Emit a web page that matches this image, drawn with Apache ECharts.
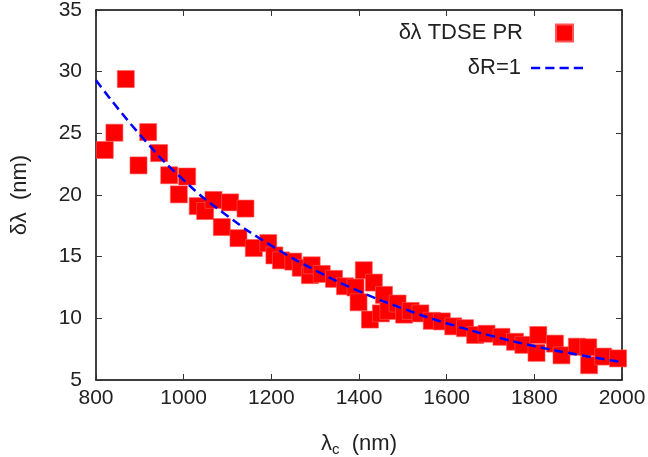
<!DOCTYPE html>
<html>
<head>
<meta charset="utf-8">
<script src="https://cdn.jsdelivr.net/npm/echarts@6/dist/echarts.min.js"></script>
<style>
html,body{margin:0;padding:0;background:#fff;}
#chart{width:648px;height:457px;}
</style>
</head>
<body>
<div id="chart"></div>
<script>
// Scatter data: δλ TDSE PR
var tdseX = [820, 842, 868, 897, 919, 944, 967, 989, 1008, 1032, 1049, 1068, 1087, 1106, 1125, 1141, 1160, 1193, 1207, 1222, 1250, 1267, 1288, 1292, 1315, 1343, 1368, 1392, 1399, 1411, 1425, 1434, 1450, 1457, 1467, 1488, 1503, 1518, 1540, 1566, 1589, 1615, 1642, 1665, 1691, 1725, 1756, 1775, 1805, 1809, 1847, 1862, 1897, 1923, 1925, 1957, 1991];
var tdseY = [23.65, 25.05, 29.4, 22.4, 25.1, 23.4, 21.6, 20.05, 21.5, 19.1, 18.7, 19.6, 17.4, 19.4, 16.5, 18.9, 15.7, 16.1, 15.1, 14.7, 14.6, 14.1, 13.5, 14.3, 13.6, 13.2, 12.6, 12.5, 11.3, 13.9, 9.9, 12.9, 10.4, 11.9, 10.6, 11.2, 10.3, 10.6, 10.4, 9.8, 9.75, 9.35, 9.2, 8.65, 8.75, 8.5, 8.1, 7.85, 7.2, 8.65, 7.95, 7.0, 7.7, 7.65, 6.2, 6.9, 6.75];
// Curve: δR=1
var curveX = [800, 900, 1000, 1100, 1200, 1300, 1400, 1500, 1600, 1700, 1800, 1900, 2000];
var curveY = [29.3, 24.9, 21.2, 18.3, 15.9, 13.9, 12.2, 10.8, 9.6, 8.6, 7.75, 7.05, 6.45];
// Axes
var xMin = 800, xMax = 2000, xStep = 200;
var yMin = 5, yMax = 35, yStep = 5;

var FONT = 'Liberation Sans';
var tdseData = tdseX.map(function (x, i) { return [x, tdseY[i]]; });
var curveData = curveX.map(function (x, i) { return [x, curveY[i]]; });

function axisBase(show) {
  return {
    axisLine: { show: true, onZero: false, lineStyle: { color: '#000', width: 1.5 } },
    axisTick: { show: true, inside: true, length: 6, lineStyle: { color: '#333', width: 1 } },
    splitLine: { show: false },
    axisLabel: { show: show, fontSize: 21, color: '#222', fontFamily: FONT,
      formatter: function (v) { return String(v); } }
  };
}

var xBottom = Object.assign(axisBase(true), {
  type: 'value', position: 'bottom', min: xMin, max: xMax, interval: xStep,
  name: '{a|λ}{s|c}{a|  (nm)}', nameLocation: 'middle', nameGap: 50,
  nameTextStyle: { rich: {
    a: { fontSize: 22, color: '#222', fontFamily: FONT },
    s: { fontSize: 15, color: '#222', fontFamily: FONT, padding: [12, 0, 0, 0] }
  } }
});
xBottom.axisLabel.margin = 8;
var xTop = Object.assign(axisBase(false), {
  type: 'value', position: 'top', min: xMin, max: xMax, interval: xStep
});
var yLeft = Object.assign(axisBase(true), {
  type: 'value', position: 'left', min: yMin, max: yMax, interval: yStep,
  name: 'δλ  (nm)', nameLocation: 'middle', nameGap: 65, nameRotate: 90,
  nameTextStyle: { fontSize: 22, color: '#222', fontFamily: FONT }
});
yLeft.axisLabel.margin = 14;
var yRight = Object.assign(axisBase(false), {
  type: 'value', position: 'right', min: yMin, max: yMax, interval: yStep
});

var squareIcon = 'path://M0,0L10,0L10,10L0,10Z';
var dashIcon = 'path://M0,0h9v2.5h-9z M14,0h9v2.5h-9z M28,0h9v2.5h-9z M42,0h9v2.5h-9z';

var chart = echarts.init(document.getElementById('chart'), null, { renderer: 'canvas' });
chart.setOption({
  animation: false,
  backgroundColor: '#fff',
  grid: { left: 96, right: 26, top: 10, bottom: 77, show: false, containLabel: false, outerBoundsMode: 'none' },
  xAxis: [xBottom, xTop],
  yAxis: [yLeft, yRight],
  legend: [
    {
      orient: 'vertical', right: 69, top: 17, align: 'right',
      itemWidth: 17, itemHeight: 17,
      textStyle: { fontSize: 22, lineHeight: 17, color: '#222', fontFamily: FONT, padding: [0, 28, 0, 0] },
      data: [ { name: 'δλ TDSE PR', icon: squareIcon, itemStyle: { color: '#ff0000' } } ]
    },
    {
      orient: 'vertical', right: 60, top: 52, align: 'right',
      itemWidth: 52, itemHeight: 17,
      textStyle: { fontSize: 22, lineHeight: 17, color: '#222', fontFamily: FONT, padding: [0, 5, 0, 0] },
      data: [ { name: 'δR=1', icon: dashIcon, itemStyle: { color: '#0000ff' } } ]
    }
  ],
  series: [
    {
      name: 'δλ TDSE PR', type: 'scatter', xAxisIndex: 0, yAxisIndex: 0,
      symbol: 'rect', symbolSize: 17, clip: false,
      itemStyle: { color: '#ff0000', opacity: 1, borderColor: '#ff5555', borderWidth: 0.6 },
      data: tdseData, z: 2
    },
    {
      name: 'δR=1', type: 'line', xAxisIndex: 0, yAxisIndex: 0,
      symbol: 'none', smooth: true,
      lineStyle: { color: '#0000ff', width: 2.5, type: [9, 5] },
      itemStyle: { color: '#0000ff' },
      data: curveData, z: 3
    }
  ]
});
</script>
</body>
</html>
